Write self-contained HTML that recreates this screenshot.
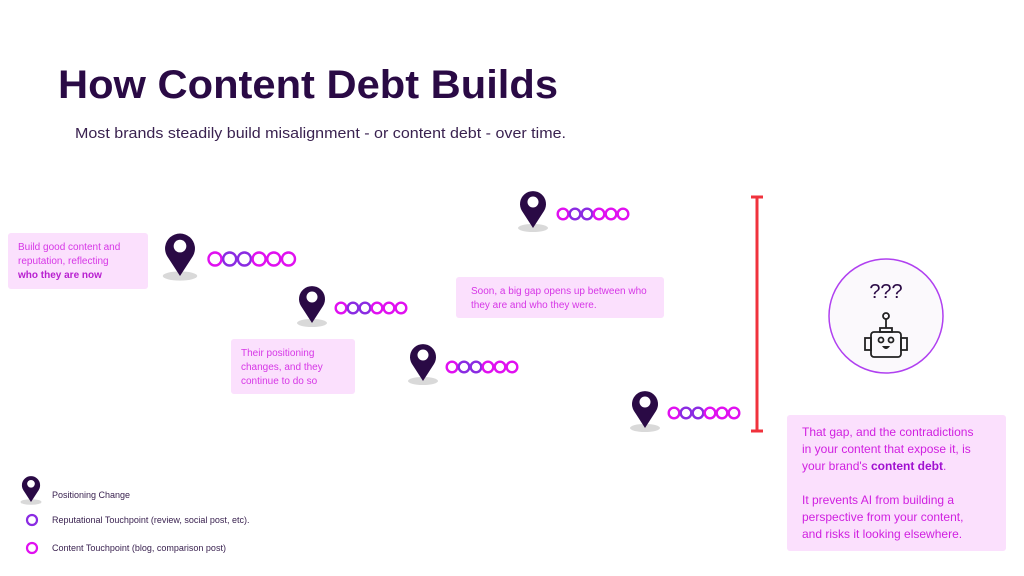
<!DOCTYPE html>
<html><head><meta charset="utf-8"><style>
html,body{margin:0;padding:0;background:#fff;}
svg{display:block;font-family:"Liberation Sans",sans-serif;}
</style></head><body>
<svg width="1024" height="576" viewBox="0 0 1024 576" xmlns="http://www.w3.org/2000/svg">
<defs>
<g id="pin">
<ellipse cx="0" cy="0" rx="15" ry="4" fill="#d9d9d9"/>
<path d="M0 0 L-11 -17 A13 13 0 1 1 11 -17 Z" fill="#2a0a45"/>
<circle cx="0" cy="-26" r="5.5" fill="#fff"/>
</g>
</defs>
<text x="58" y="98" font-size="40" font-weight="bold" fill="#2a0a45" textLength="500" lengthAdjust="spacingAndGlyphs">How Content Debt Builds</text>
<text x="75" y="138" font-size="15" fill="#3a2250" textLength="491" lengthAdjust="spacingAndGlyphs">Most brands steadily build misalignment - or content debt - over time.</text>

<!-- boxes -->
<rect x="8" y="233" width="140" height="56" rx="3" fill="#fbe0fd"/>
<text font-size="10" fill="#d636e6"><tspan x="18" y="250">Build good content and</tspan><tspan x="18" y="264">reputation, reflecting</tspan><tspan x="18" y="278" font-weight="bold" fill="#b820d0">who they are now</tspan></text>
<rect x="231" y="339" width="124" height="55" rx="3" fill="#fbe0fd"/>
<text font-size="10" fill="#d636e6"><tspan x="241" y="356">Their positioning</tspan><tspan x="241" y="370">changes, and they</tspan><tspan x="241" y="384">continue to do so</tspan></text>
<rect x="456" y="277" width="208" height="41" rx="3" fill="#fbe0fd"/>
<text font-size="10" fill="#d636e6"><tspan x="471" y="294">Soon, a big gap opens up between who</tspan><tspan x="471" y="308">they are and who they were.</tspan></text>
<rect x="787" y="415" width="219" height="136" rx="3" fill="#fbe0fd"/>
<text font-size="12" fill="#d020e0"><tspan x="802" y="436">That gap, and the contradictions</tspan><tspan x="802" y="453">in your content that expose it, is</tspan><tspan x="802" y="470">your brand's <tspan font-weight="bold" fill="#a010d0">content debt</tspan>.</tspan><tspan x="802" y="504">It prevents AI from building a</tspan><tspan x="802" y="521">perspective from your content,</tspan><tspan x="802" y="538">and risks it looking elsewhere.</tspan></text>

<!-- pins -->
<g transform="translate(180,276) scale(1.15)"><use href="#pin"/></g>
<use href="#pin" x="312" y="323"/>
<use href="#pin" x="533" y="228"/>
<use href="#pin" x="423" y="381"/>
<use href="#pin" x="645" y="428"/>

<!-- circle rows -->
<g fill="none" stroke-width="2.4">
<g transform="translate(215,259)">
<circle cx="0" r="6.5" stroke="#e010f0"/><circle cx="14.7" r="6.5" stroke="#8a2be2"/><circle cx="29.4" r="6.5" stroke="#8a2be2"/><circle cx="44.1" r="6.5" stroke="#e010f0"/><circle cx="58.8" r="6.5" stroke="#e010f0"/><circle cx="73.5" r="6.5" stroke="#e010f0"/>
</g>
<g transform="translate(341,308)">
<circle cx="0" r="5.3" stroke="#e010f0"/><circle cx="12" r="5.3" stroke="#8a2be2"/><circle cx="24" r="5.3" stroke="#8a2be2"/><circle cx="36" r="5.3" stroke="#e010f0"/><circle cx="48" r="5.3" stroke="#e010f0"/><circle cx="60" r="5.3" stroke="#e010f0"/>
</g>
<g transform="translate(563,214)">
<circle cx="0" r="5.3" stroke="#e010f0"/><circle cx="12" r="5.3" stroke="#8a2be2"/><circle cx="24" r="5.3" stroke="#8a2be2"/><circle cx="36" r="5.3" stroke="#e010f0"/><circle cx="48" r="5.3" stroke="#e010f0"/><circle cx="60" r="5.3" stroke="#e010f0"/>
</g>
<g transform="translate(452,367)">
<circle cx="0" r="5.3" stroke="#e010f0"/><circle cx="12" r="5.3" stroke="#8a2be2"/><circle cx="24" r="5.3" stroke="#8a2be2"/><circle cx="36" r="5.3" stroke="#e010f0"/><circle cx="48" r="5.3" stroke="#e010f0"/><circle cx="60" r="5.3" stroke="#e010f0"/>
</g>
<g transform="translate(674,413)">
<circle cx="0" r="5.3" stroke="#e010f0"/><circle cx="12" r="5.3" stroke="#8a2be2"/><circle cx="24" r="5.3" stroke="#8a2be2"/><circle cx="36" r="5.3" stroke="#e010f0"/><circle cx="48" r="5.3" stroke="#e010f0"/><circle cx="60" r="5.3" stroke="#e010f0"/>
</g>
</g>

<!-- red bar -->
<g stroke="#f0323c" stroke-width="3">
<line x1="757" y1="197" x2="757" y2="431"/>
<line x1="751" y1="197" x2="763" y2="197"/>
<line x1="751" y1="431" x2="763" y2="431"/>
</g>

<!-- robot circle -->
<circle cx="886" cy="316" r="57" fill="#fbf9fc" stroke="#b040f0" stroke-width="1.5"/>
<text x="886" y="298" font-size="20" fill="#2a0a45" text-anchor="middle">???</text>
<g fill="none" stroke="#222" stroke-width="1.8">
<circle cx="886" cy="316" r="3"/>
<line x1="886" y1="319" x2="886" y2="328"/>
<rect x="880" y="328" width="12" height="4"/>
<rect x="871" y="332" width="30" height="25" rx="3"/>
<rect x="865" y="338" width="6" height="12"/>
<rect x="901" y="338" width="6" height="12"/>
<circle cx="881" cy="340" r="2.5"/>
<circle cx="891" cy="340" r="2.5"/>
</g>
<path d="M882 346 Q886 352 890 346 Z" fill="#222"/>

<!-- legend -->
<g transform="translate(31,502) scale(0.7)"><use href="#pin"/></g>
<text x="52" y="498" font-size="9" fill="#3a2250">Positioning Change</text>
<circle cx="32" cy="520" r="5" fill="none" stroke="#8a2be2" stroke-width="2.2"/>
<text x="52" y="523" font-size="9" fill="#3a2250">Reputational Touchpoint (review, social post, etc).</text>
<circle cx="32" cy="548" r="5" fill="none" stroke="#e010f0" stroke-width="2.2"/>
<text x="52" y="551" font-size="9" fill="#3a2250">Content Touchpoint (blog, comparison post)</text>
</svg>
</body></html>
